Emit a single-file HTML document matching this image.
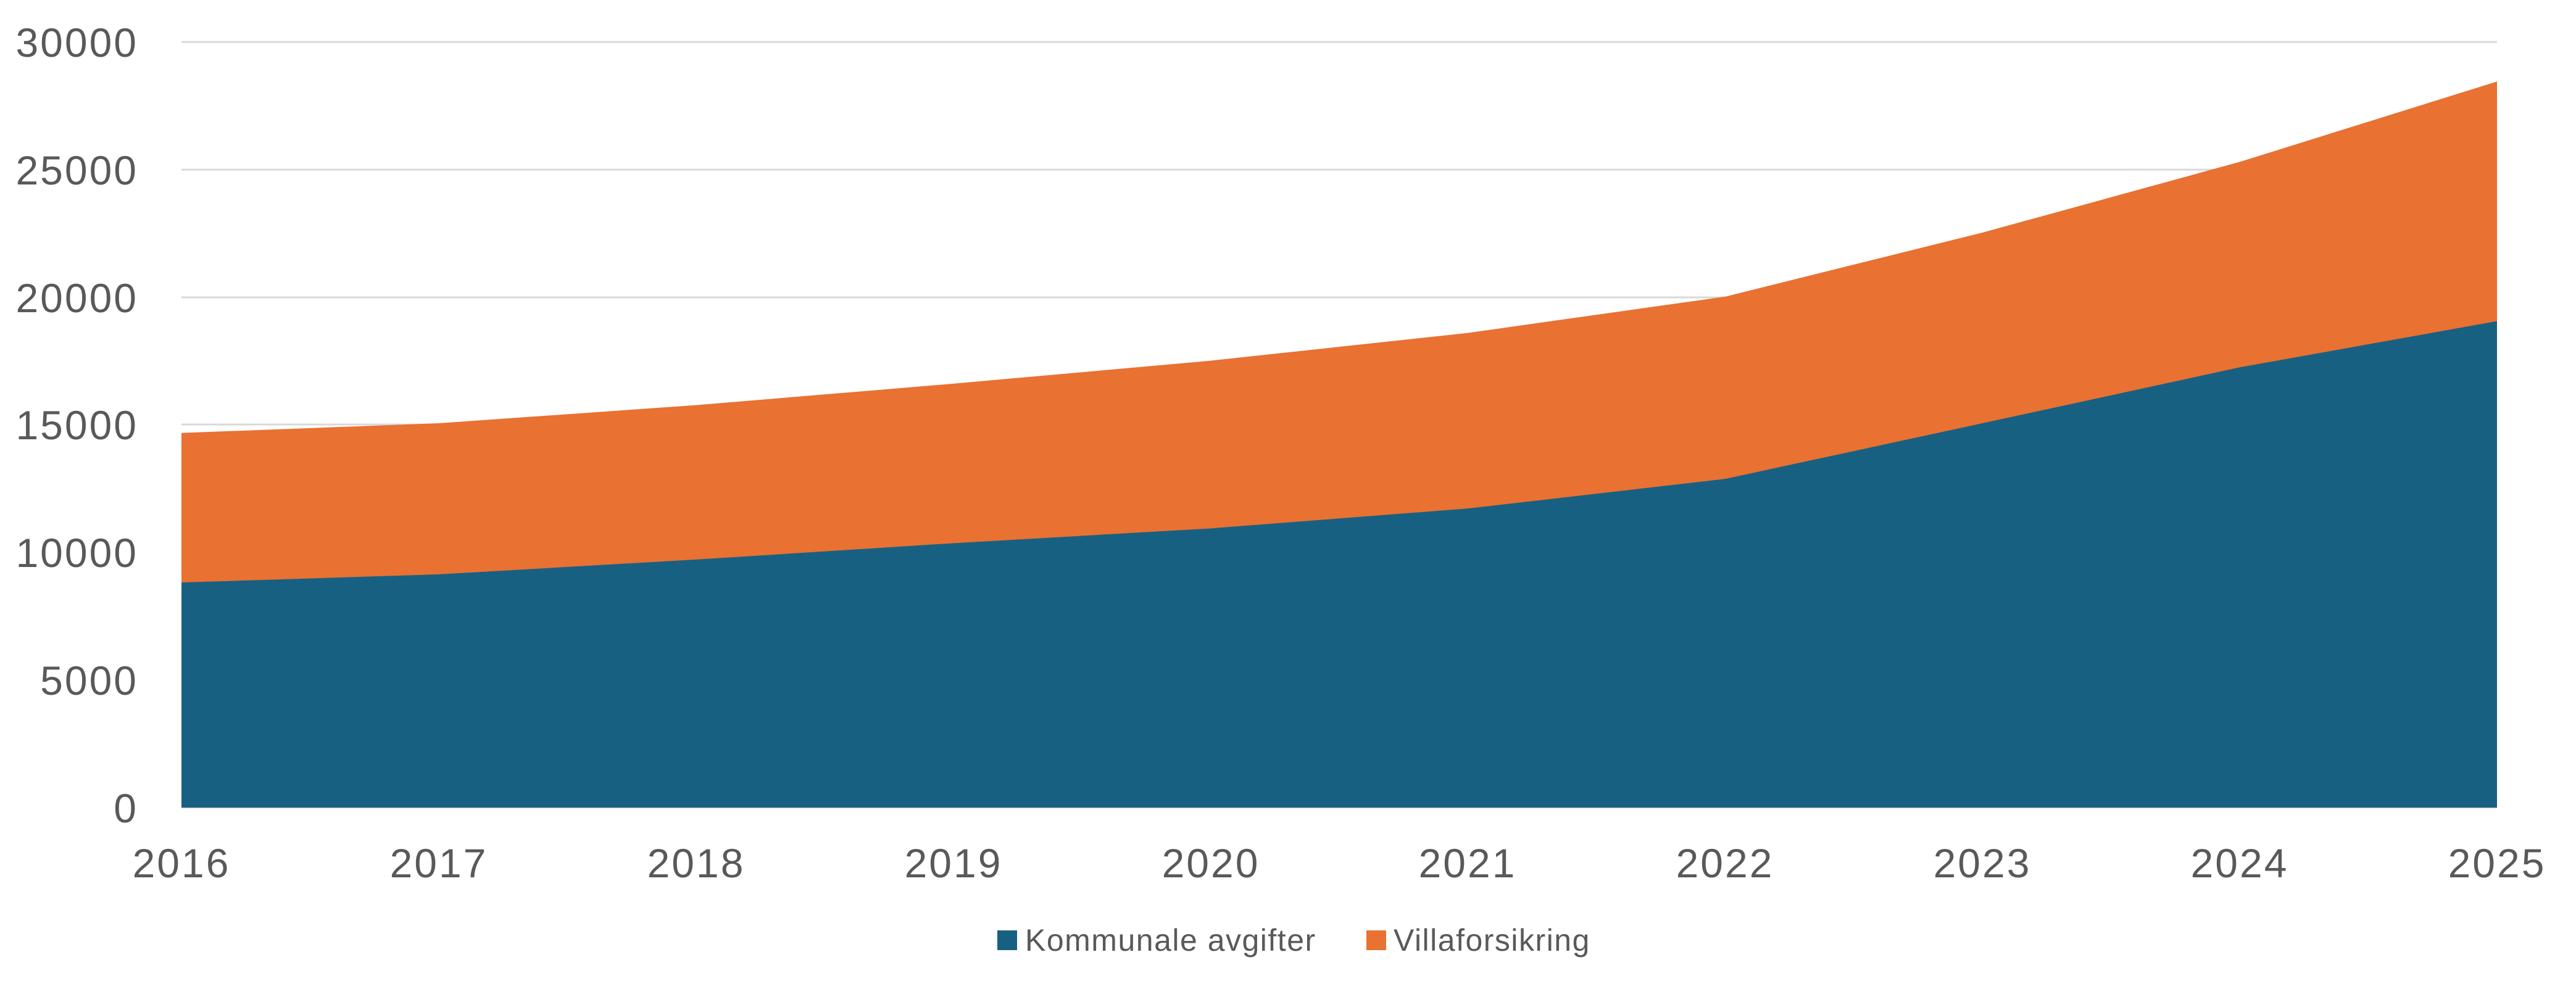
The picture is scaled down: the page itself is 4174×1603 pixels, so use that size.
<!DOCTYPE html>
<html><head><meta charset="utf-8"><style>
html,body{margin:0;padding:0;background:#fff;}
svg text{font-family:"Liberation Sans",sans-serif;fill:#595959;}
</style></head><body>
<svg width="4174" height="1598" viewBox="0 0 4174 1598" xmlns="http://www.w3.org/2000/svg">
<g stroke="#d9d9d9" stroke-width="3">
<line x1="294" x2="4046" y1="68" y2="68"/>
<line x1="294" x2="4046" y1="275" y2="275"/>
<line x1="294" x2="4046" y1="482" y2="482"/>
<line x1="294" x2="4046" y1="688" y2="688"/>
<line x1="294" x2="4046" y1="895" y2="895"/>
<line x1="294" x2="4046" y1="1102" y2="1102"/>
<line x1="294" x2="4046" y1="1309" y2="1309"/>
</g>
<g transform="translate(294,1309) scale(416.889,-0.041367)">
<polygon fill="#e97132" points="0,0 0,14680 1,15060 2,15770 3,16610 4,17510 5,18600 6,20020 7,22530 8,25300 9,28450 9,0"/>
<polygon fill="#186082" points="0,0 0,8820 1,9140 2,9720 3,10360 4,10940 5,11720 6,12880 7,15060 8,17250 9,19060 9,0"/>
</g>
<g font-size="66" text-anchor="end" letter-spacing="3">
<text x="224" y="92">30000</text>
<text x="224" y="299">25000</text>
<text x="224" y="506">20000</text>
<text x="224" y="712">15000</text>
<text x="224" y="919">10000</text>
<text x="224" y="1126">5000</text>
<text x="224" y="1333">0</text>
</g>
<g font-size="66" text-anchor="middle" letter-spacing="3">
<text x="294" y="1422">2016</text>
<text x="711" y="1422">2017</text>
<text x="1128" y="1422">2018</text>
<text x="1545" y="1422">2019</text>
<text x="1962" y="1422">2020</text>
<text x="2378" y="1422">2021</text>
<text x="2795" y="1422">2022</text>
<text x="3212" y="1422">2023</text>
<text x="3629" y="1422">2024</text>
<text x="4046" y="1422">2025</text>
</g>
<rect x="1616" y="1508" width="32" height="32" fill="#186082"/>
<text x="1661" y="1541" font-size="50" letter-spacing="1.5">Kommunale avgifter</text>
<rect x="2214" y="1508" width="32" height="32" fill="#e97132"/>
<text x="2258" y="1541" font-size="50" letter-spacing="1.5">Villaforsikring</text>
</svg>
</body></html>
